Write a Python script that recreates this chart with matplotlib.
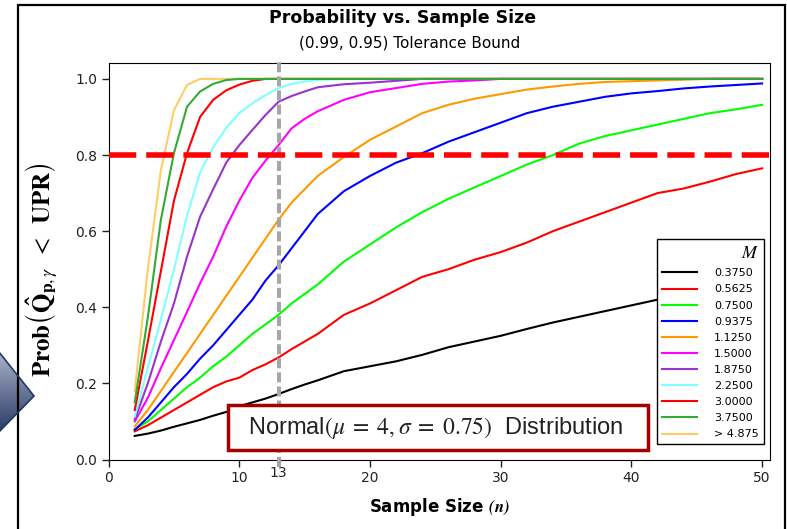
import matplotlib
matplotlib.use("Agg")
import matplotlib.pyplot as plt
import numpy as np
from matplotlib.patches import Rectangle, Polygon

plt.rcParams['font.family'] = ['DejaVu Sans']
plt.rcParams['mathtext.fontset'] = 'stix'

n = [2, 3, 4, 5, 6, 7, 8, 9, 10, 11, 12, 13, 14, 15, 16, 18, 20,
     22, 24, 26, 28, 30, 32, 34, 36, 38, 40, 42, 44, 46, 48, 50]

p_0375 = [.062, .068, .076, .086, .095, .104, .115, .125, .140, .150, .160, .172, .185, .197, .208, .232, .245,
          .258, .275, .295, .310, .325, .343, .360, .375, .390, .405, .420, .435, .450, .465, .480]
p_05625 = [.074, .090, .110, .130, .150, .170, .190, .205, .215, .235, .250, .268, .290, .310, .330, .380, .410,
           .445, .480, .500, .525, .545, .570, .600, .625, .650, .675, .700, .712, .730, .750, .765]
p_075 = [.079, .100, .130, .160, .190, .215, .245, .270, .300, .330, .355, .380, .410, .435, .460, .520, .565,
         .610, .650, .685, .715, .745, .775, .800, .830, .850, .865, .880, .895, .910, .920, .932]
p_09375 = [.078, .110, .150, .190, .225, .265, .300, .340, .380, .420, .470, .510, .555, .600, .645, .705, .745,
           .780, .805, .835, .860, .885, .910, .927, .940, .953, .962, .968, .975, .980, .984, .988]
p_1125 = [.087, .130, .180, .230, .280, .330, .380, .430, .480, .530, .580, .630, .675, .710, .745, .795, .840,
          .875, .910, .932, .948, .960, .972, .980, .987, .992, .994, .996, .998, 1.0, 1.0, 1.0]
p_15 = [.100, .162, .240, .314, .388, .463, .533, .612, .680, .740, .785, .826, .870, .895, .915, .945, .965,
        .976, .987, .993, .996, 1.0, 1.0, 1.0, 1.0, 1.0, 1.0, 1.0, 1.0, 1.0, 1.0, 1.0]
p_1875 = [.105, .200, .310, .410, .533, .638, .710, .780, .826, .866, .905, .940, .955, .967, .978, .986, .990,
          .995, 1.0, 1.0, 1.0, 1.0, 1.0, 1.0, 1.0, 1.0, 1.0, 1.0, 1.0, 1.0, 1.0, 1.0]
p_225 = [.113, .240, .367, .500, .640, .755, .820, .872, .910, .936, .957, .976, .987, .993, .997, 1.0, 1.0,
         1.0, 1.0, 1.0, 1.0, 1.0, 1.0, 1.0, 1.0, 1.0, 1.0, 1.0, 1.0, 1.0, 1.0, 1.0]
p_30 = [.130, .310, .495, .680, .805, .900, .945, .970, .985, .995, 1.0, 1.0, 1.0, 1.0, 1.0, 1.0, 1.0,
        1.0, 1.0, 1.0, 1.0, 1.0, 1.0, 1.0, 1.0, 1.0, 1.0, 1.0, 1.0, 1.0, 1.0, 1.0]
p_375 = [.150, .373, .630, .805, .927, .967, .987, .997, 1.0, 1.0, 1.0, 1.0, 1.0, 1.0, 1.0, 1.0, 1.0,
         1.0, 1.0, 1.0, 1.0, 1.0, 1.0, 1.0, 1.0, 1.0, 1.0, 1.0, 1.0, 1.0, 1.0, 1.0]
p_big = [.180, .500, .760, .918, .984, 1.0, 1.0, 1.0, 1.0, 1.0, 1.0, 1.0, 1.0, 1.0, 1.0, 1.0, 1.0,
         1.0, 1.0, 1.0, 1.0, 1.0, 1.0, 1.0, 1.0, 1.0, 1.0, 1.0, 1.0, 1.0, 1.0, 1.0]

labels = ['0.3750', '0.5625', '0.7500', '0.9375', '1.1250', '1.5000',
          '1.8750', '2.2500', '3.0000', '3.7500', '> 4.875']
series = [p_0375, p_05625, p_075, p_09375, p_1125, p_15, p_1875, p_225, p_30, p_375, p_big]
colors = ['#000000', '#ff0000', '#00ff00', '#0000ff', '#ff9900', '#ff00ff',
          '#9933cc', '#80ffff', '#ff0000', '#33aa33', '#ffcc66']

W, H = 787, 529
fig = plt.figure(figsize=(W / 100, H / 100), dpi=100)

# outer frame and the arrow on the left edge
fig.patches.append(Rectangle((18 / W, -0.05), (785 - 18) / W, 1 - 5 / H + 0.05,
                             transform=fig.transFigure, fill=False, ec='black', lw=1.6))
arrow_pts = np.array([[-5, 347], [34, 396], [-5, 436]])
arrow_xy = np.column_stack([arrow_pts[:, 0] / W, 1 - arrow_pts[:, 1] / H])
arrow = Polygon(arrow_xy, closed=True, transform=fig.transFigure, fc='none', ec='#1f3864', lw=1.2, zorder=5)
fig.patches.append(arrow)
grad = np.linspace(0, 1, 100).reshape(-1, 1)
bg = fig.add_axes([0, 0, 1, 1], zorder=-1)
bg.set_xlim(0, 1)
bg.set_ylim(0, 1)
bg.axis('off')
img = bg.imshow(grad, cmap=matplotlib.colors.LinearSegmentedColormap.from_list('g', ['#b4bcd2', '#1f2f5c']),
                extent=[0, 40 / W, 1 - 440 / H, 1 - 345 / H], aspect='auto', origin='upper')
clip = Polygon(arrow_xy, closed=True, transform=bg.transAxes)
img.set_clip_path(clip)

ax = fig.add_axes([108.6 / W, 1 - 459.5 / H, (770 - 108.6) / W, (459.5 - 63.3) / H])

for i, (y, c, lab) in enumerate(zip(series, colors, labels)):
    z = 1.9 if i == len(series) - 1 else 2 + i * 0.01
    ax.plot(n, y, color=c, lw=1.5, label=lab, zorder=z)

ax.axhline(0.8, color='#ff0000', lw=4, ls=(0, (4.9, 1.8)), zorder=4)
ax.plot([13, 13], [-0.02, 1.05], color='#a6a6a6', lw=2.9, ls=(0, (2.5, 1)), zorder=3, clip_on=False)

ax.set_xlim(0, 50.6)
ax.set_ylim(0, 1.041)
ax.set_xticks([0, 10, 20, 30, 40, 50])
ax.set_yticks([0.0, 0.2, 0.4, 0.6, 0.8, 1.0])
ax.set_yticklabels(['0.0', '0.2', '0.4', '0.6', '0.8', '1.0'])
ax.tick_params(direction='out', length=5, width=1, labelsize=10, colors='#222222', pad=3)
ax.text(13, -0.016, '13', ha='center', va='top', fontsize=10, color='#222222', clip_on=False)

ax.set_xlabel(r'Sample Size $\mathbfit{(n)}$', fontsize=12, fontweight='bold')
ax.xaxis.set_label_coords(0.5, -0.093)
ax.set_ylabel(r'$\mathbf{Prob}\left(\mathbf{\hat{Q}}_{\mathbf{p},\gamma}\;\;<\;\;\mathbf{UPR}\right)$', fontsize=18)
ax.yaxis.set_label_coords(-0.073, 0.48)

leg = ax.legend(title='$M$', loc='lower right', bbox_to_anchor=(0.999, 0.024), fontsize=8,
                handlelength=3.2, handletextpad=1.5, labelspacing=0.55, borderpad=0.45,
                fancybox=False, framealpha=1, edgecolor='black', alignment='right')
leg.get_title().set_fontsize(13)
leg.get_frame().set_linewidth(1)
leg.set_zorder(10)

# distribution box
fig.patches.append(Rectangle((228 / W, 1 - 450 / H), 420 / W, 45 / H, transform=fig.transFigure,
                             fc='white', ec='#a50000', lw=2.5, zorder=8))
fig.text(436 / W, 1 - 428 / H, r'Normal$(\mu\;=\;4,\sigma\;=\;0.75)$  Distribution',
         ha='center', va='center', fontsize=17, family='Liberation Sans', color='#222222', zorder=9)

fig.text(403 / W, 1 - 18 / H, 'Probability vs. Sample Size', ha='center', va='center',
         fontsize=12.5, fontweight='bold')
fig.text(410 / W, 1 - 43 / H, '(0.99, 0.95) Tolerance Bound', ha='center', va='center', fontsize=11)

fig.savefig('out.png', dpi=100)
